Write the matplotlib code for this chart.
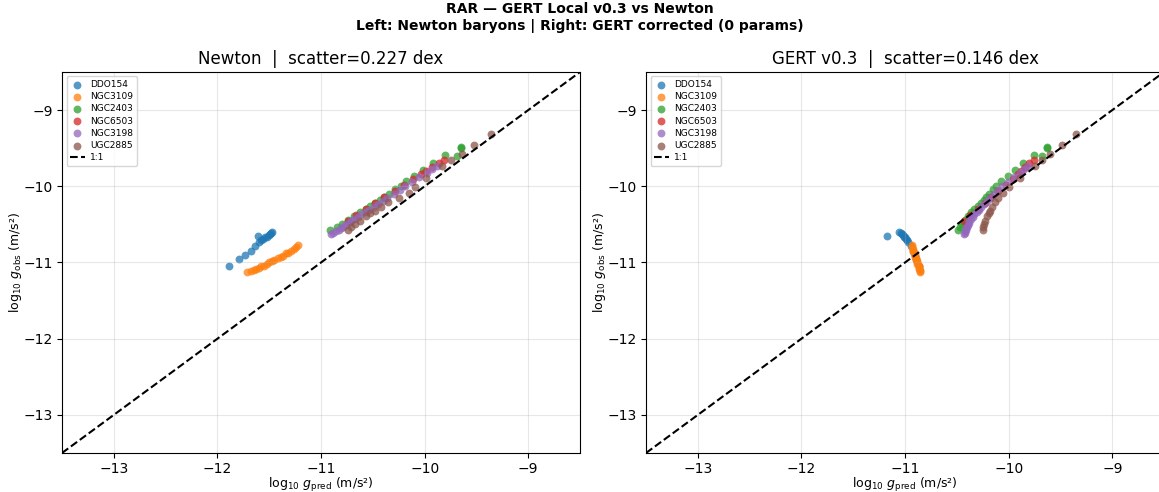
import matplotlib
matplotlib.use("Agg")
import matplotlib.pyplot as plt

galaxies = ["DDO154", "NGC3109", "NGC2403", "NGC6503", "NGC3198", "UGC2885"]
colors = ["#1f77b4", "#ff7f0e", "#2ca02c", "#d62728", "#9467bd", "#8c564b"]

# log10 g_obs (same in both panels), log10 g_pred for Newton and GERT
ddo154_obs = [-11.04, -10.96, -10.90, -10.85, -10.78, -10.65, -10.73, -10.71, -10.69,
              -10.67, -10.66, -10.64, -10.62, -10.61, -10.60]
ddo154_newton = [-11.89, -11.79, -11.73, -11.68, -11.64, -11.61, -11.60, -11.58, -11.56,
                 -11.54, -11.52, -11.50, -11.49, -11.48, -11.47]
ddo154_gert = [-10.87, -10.89, -10.90, -10.92, -10.94, -11.17, -10.97, -10.98, -10.99,
               -11.00, -11.01, -11.02, -11.03, -11.04, -11.06]

ngc3109_obs = [-11.12, -11.11, -11.10, -11.08, -11.07, -11.05, -11.04, -11.02, -11.00, -10.98,
               -10.97, -10.94, -10.93, -10.91, -10.88, -10.87, -10.85, -10.82, -10.80, -10.77]
ngc3109_newton = [-11.71, -11.68, -11.65, -11.63, -11.60, -11.58, -11.55, -11.52, -11.50, -11.47,
                  -11.45, -11.42, -11.39, -11.37, -11.34, -11.32, -11.29, -11.26, -11.24, -11.22]
ngc3109_gert = [-10.86, -10.86, -10.86, -10.87, -10.87, -10.87, -10.87, -10.88, -10.88, -10.88,
                -10.89, -10.89, -10.90, -10.90, -10.91, -10.91, -10.92, -10.92, -10.93, -10.93]

ngc2403_obs = [-10.58, -10.53, -10.49, -10.44, -10.39, -10.34, -10.30, -10.26, -10.22, -10.18,
               -10.14, -10.10, -10.04, -9.99, -9.93, -9.86, -9.78, -9.70, -9.59, -9.60, -9.48, -9.50]
ngc2403_newton = [-10.91, -10.85, -10.80, -10.74, -10.68, -10.62, -10.57, -10.53, -10.48, -10.43,
                  -10.39, -10.34, -10.29, -10.23, -10.18, -10.10, -10.02, -9.92, -9.80, -9.69, -9.65, -9.65]
ngc2403_gert = [-10.49, -10.47, -10.45, -10.42, -10.39, -10.36, -10.33, -10.30, -10.27, -10.24,
                -10.22, -10.19, -10.15, -10.12, -10.07, -10.01, -9.94, -9.86, -9.76, -9.68, -9.63, -9.63]

ngc6503_obs = [-10.45, -10.38, -10.30, -10.22, -10.14, -10.06, -9.98, -9.90, -9.84, -9.80,
               -9.75, -9.70, -9.65]
ngc6503_newton = [-10.74, -10.66, -10.57, -10.48, -10.39, -10.29, -10.20, -10.11, -10.04, -9.99,
                  -9.93, -9.86, -9.81]
ngc6503_gert = [-10.43, -10.37, -10.30, -10.23, -10.17, -10.10, -10.03, -9.96, -9.91, -9.88,
                -9.84, -9.80, -9.76]

ngc3198_obs = [-10.63, -10.61, -10.59, -10.57, -10.55, -10.53, -10.51, -10.48, -10.46, -10.43,
               -10.40, -10.37, -10.34, -10.31, -10.27, -10.23, -10.19, -10.15, -10.10, -10.05,
               -10.00, -9.94, -9.88, -9.82, -9.77, -9.73]
ngc3198_newton = [-10.90, -10.88, -10.86, -10.83, -10.81, -10.79, -10.77, -10.73, -10.71, -10.68,
                  -10.64, -10.61, -10.57, -10.54, -10.49, -10.45, -10.40, -10.36, -10.30, -10.24,
                  -10.19, -10.12, -10.05, -9.98, -9.93, -9.88]
ngc3198_gert = [-10.43, -10.42, -10.42, -10.41, -10.41, -10.40, -10.39, -10.38, -10.38, -10.36,
                -10.34, -10.33, -10.31, -10.29, -10.27, -10.24, -10.21, -10.18, -10.14, -10.10,
                -10.06, -10.01, -9.95, -9.89, -9.85, -9.81]

ugc2885_obs = [-10.57, -10.53, -10.49, -10.45, -10.39, -10.35, -10.32, -10.27, -10.21, -10.15,
               -10.09, -10.01, -9.89, -9.74, -9.66, -9.57, -9.46, -9.31]
ugc2885_newton = [-10.74, -10.71, -10.67, -10.62, -10.57, -10.53, -10.48, -10.42, -10.35, -10.25,
                  -10.15, -10.09, -9.99, -9.83, -9.75, -9.64, -9.52, -9.36]
ugc2885_gert = [-10.25, -10.25, -10.24, -10.23, -10.21, -10.19, -10.18, -10.16, -10.13, -10.10,
                -10.05, -10.00, -9.89, -9.75, -9.68, -9.60, -9.49, -9.35]

obs = [ddo154_obs, ngc3109_obs, ngc2403_obs, ngc6503_obs, ngc3198_obs, ugc2885_obs]
newton = [ddo154_newton, ngc3109_newton, ngc2403_newton, ngc6503_newton, ngc3198_newton, ugc2885_newton]
gert = [ddo154_gert, ngc3109_gert, ngc2403_gert, ngc6503_gert, ngc3198_gert, ugc2885_gert]

titles = ["Newton  |  scatter=0.227 dex", "GERT v0.3  |  scatter=0.146 dex"]
lims = [-13.5, -8.5]

fig = plt.figure(figsize=(11.59, 4.92), dpi=100)
ax1 = fig.add_axes([0.0535, 0.0793, 0.447, 0.7744])
ax2 = fig.add_axes([0.5574, 0.0793, 0.447, 0.7744])

for ax, pred, title in zip([ax1, ax2], [newton, gert], titles):
    for name, c, xp, yo in zip(galaxies, colors, pred, obs):
        ax.scatter(xp, yo, s=32, color=c, alpha=0.75, linewidths=0, label=name)
    ax.plot(lims, lims, 'k--', lw=1.5, label='1:1')
    ax.set_xlim(lims)
    ax.set_ylim(lims)
    ax.set_xticks([-13, -12, -11, -10, -9])
    ax.set_yticks([-13, -12, -11, -10, -9])
    ax.tick_params(labelsize=10, pad=3)
    ax.grid(alpha=0.3)
    ax.set_xlabel(r'$\log_{10}\,g_{\rm pred}$ (m/s²)', fontsize=9)
    ax.set_ylabel(r'$\log_{10}\,g_{\rm obs}$ (m/s²)', fontsize=9)
    ax.xaxis.set_label_coords(0.5, -0.06)
    ax.yaxis.set_label_coords(-0.073, 0.5)
    ax.set_title(title, fontsize=12)
    ax.legend(loc='upper left', fontsize=6.5, labelspacing=0.35, handlelength=1.6,
              handletextpad=0.6, borderpad=0.4)

fig.suptitle('RAR — GERT Local v0.3 vs Newton\nLeft: Newton baryons | Right: GERT corrected (0 params)',
             fontsize=10, fontweight='bold', y=0.995)

fig.savefig('out.png', dpi=100)
